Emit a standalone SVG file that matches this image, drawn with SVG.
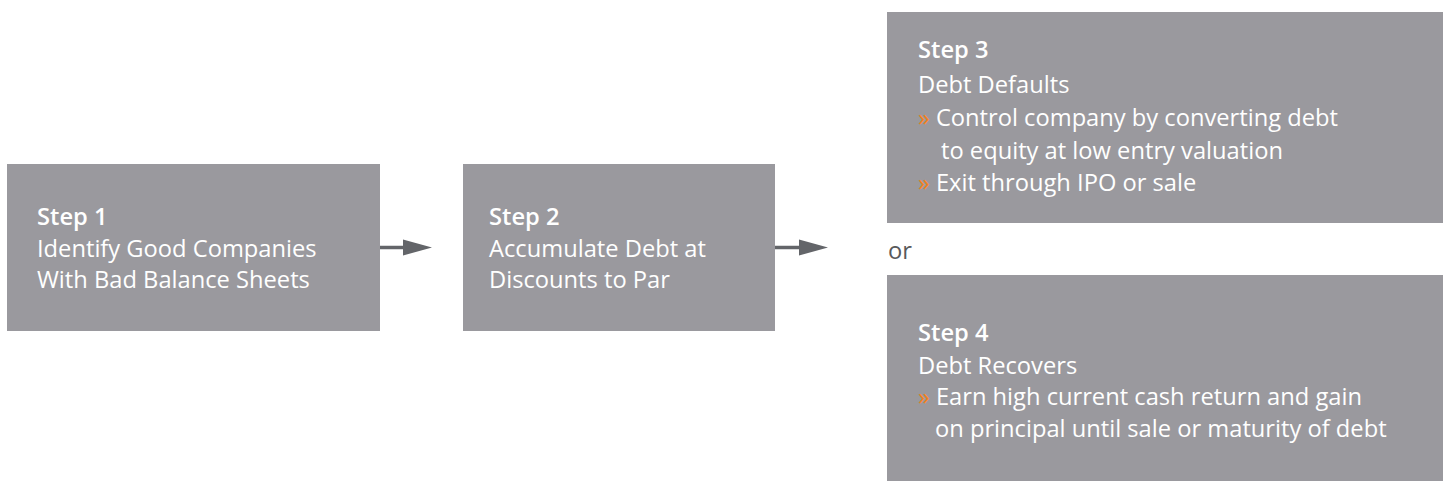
<svg xmlns="http://www.w3.org/2000/svg" width="1443" height="481" viewBox="0 0 1443 481">
<defs>
<style>
.box{fill:#9a999e}
.t{font-family:"Open Sans","Liberation Sans",sans-serif;font-size:23.7px;fill:#ffffff}
.h{font-weight:600}
.b{fill:#f58220}
.or{font-family:"Open Sans","Liberation Sans",sans-serif;font-size:23.7px;fill:#58595b}
.ln{stroke:#636569;stroke-width:3.5;fill:none}
.ah{fill:#636569}
</style>
</defs>
<rect width="1443" height="481" fill="#ffffff"/>
<g id="connectors">
<line class="ln" x1="380" y1="247.5" x2="405" y2="247.5"/>
<polygon class="ah" points="403,239.5 432,247.5 403,255.5"/>
<line class="ln" x1="775" y1="247.5" x2="801" y2="247.5"/>
<polygon class="ah" points="799,239.5 828,247.5 799,255.5"/>
</g>
<g id="step1">
<rect class="box" x="7" y="164" width="373" height="167"/>
<text class="t"><tspan class="h" x="37" y="225">Step 1</tspan><tspan x="37" y="257">Identify Good Companies</tspan><tspan x="37" y="288">With Bad Balance Sheets</tspan></text>
</g>
<g id="step2">
<rect class="box" x="463" y="164" width="312" height="167"/>
<text class="t"><tspan class="h" x="489" y="225">Step 2</tspan><tspan x="489" y="257">Accumulate Debt at</tspan><tspan x="489" y="288">Discounts to Par</tspan></text>
</g>
<g id="step3">
<rect class="box" x="887" y="12" width="556" height="211"/>
<text class="t"><tspan class="h" x="918" y="58">Step 3</tspan><tspan x="918" y="93">Debt Defaults</tspan><tspan x="918" y="126"><tspan class="b">»</tspan> Control company by converting debt</tspan><tspan x="941" y="159">to equity at low entry valuation</tspan><tspan x="918" y="191"><tspan class="b">»</tspan> Exit through IPO or sale</tspan></text>
</g>
<g id="or">
<text class="or" x="888" y="259">or</text>
</g>
<g id="step4">
<rect class="box" x="887" y="275" width="556" height="206"/>
<text class="t"><tspan class="h" x="918" y="341">Step 4</tspan><tspan x="918" y="374">Debt Recovers</tspan><tspan x="918" y="405"><tspan class="b">»</tspan> Earn high current cash return and gain</tspan><tspan x="935" y="437">on principal until sale or maturity of debt</tspan></text>
</g>
</svg>
